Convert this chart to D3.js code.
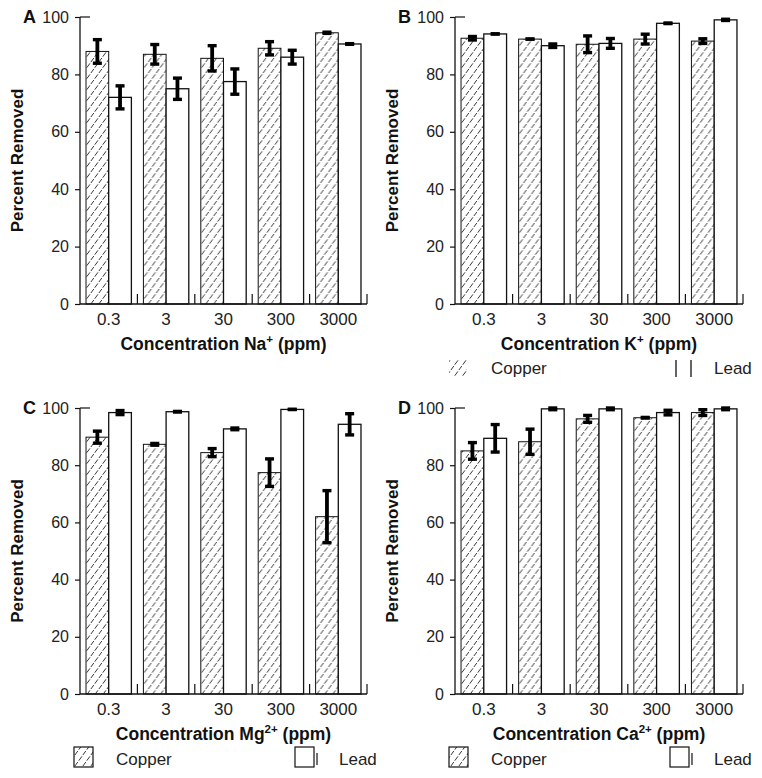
<!DOCTYPE html>
<html><head><meta charset="utf-8">
<script src="https://cdn.jsdelivr.net/npm/d3@7/dist/d3.min.js"></script>
<style>
html,body{margin:0;padding:0;background:#fff;}
svg{display:block;font-family:"Liberation Sans",Arial,sans-serif;}
</style></head>
<body>
<svg id="chart" width="762" height="778"></svg>
<script>
// ---- data ----
const categories = ["0.3", "3", "30", "300", "3000"];
const series = ["Copper", "Lead"];
const yTicks = [0, 20, 40, 60, 80, 100];

const naCopper = [88, 87, 85.6, 89.1, 94.5];
const naCopperErr = [4.7, 4, 5, 2.9, 0.8];
const naLead = [72, 75, 77.5, 86, 90.6];
const naLeadErr = [4.6, 4.3, 5, 3, 0.7];

const kCopper = [92.6, 92.3, 90.5, 92.3, 91.6];
const kCopperErr = [1.2, 0.6, 3.5, 2.3, 1.4];
const kLead = [94.1, 90, 90.8, 97.8, 99];
const kLeadErr = [0.6, 1.2, 2.3, 0.5, 0.8];

const mgCopper = [89.8, 87.3, 84.4, 77.4, 62];
const mgCopperErr = [2.7, 0.9, 2, 5.4, 9.7];
const mgLead = [98.4, 98.7, 92.7, 99.5, 94.3];
const mgLeadErr = [1.3, 0.7, 0.3, 0.6, 4.3];

const caCopper = [85, 88.2, 96.2, 96.6, 98.4];
const caCopperErr = [3.5, 5, 1.8, 0.7, 1.6];
const caLead = [89.4, 99.7, 99.7, 98.4, 99.7];
const caLeadErr = [5.4, 0.3, 0.3, 1.4, 0.3];

// ---- layout ----
const panels = [
  {letter:"A", ion:"Na", charge:"+", copper:naCopper, copperErr:naCopperErr, lead:naLead, leadErr:naLeadErr,
   x0:80, x1:367, yTop:17, yBase:304, legend:null},
  {letter:"B", ion:"K", charge:"+", copper:kCopper, copperErr:kCopperErr, lead:kLead, leadErr:kLeadErr,
   x0:455, x1:743, yTop:17, yBase:304, legend:"lines"},
  {letter:"C", ion:"Mg", charge:"2+", copper:mgCopper, copperErr:mgCopperErr, lead:mgLead, leadErr:mgLeadErr,
   x0:80, x1:367, yTop:408, yBase:694, legend:"boxes"},
  {letter:"D", ion:"Ca", charge:"2+", copper:caCopper, copperErr:caCopperErr, lead:caLead, leadErr:caLeadErr,
   x0:455, x1:743, yTop:408, yBase:694, legend:"boxes"}
];

const svg = d3.select("#chart");
const defs = svg.append("defs");
const PW = 8, PH = 11;
const pat = defs.append("pattern").attr("id","hatch").attr("patternUnits","userSpaceOnUse")
  .attr("width",PW).attr("height",PH);
pat.append("rect").attr("width",PW).attr("height",PH).attr("fill","#fff");
[-PW, 0, PW].forEach(o => {
  pat.append("path").attr("d",`M${o - 1},${PH + 1.375} L${o + PW + 1},${-1.375}`)
    .attr("stroke","#3a3a3a").attr("stroke-width",1.0).attr("stroke-dasharray","5,1.6");
});

panels.forEach(p => {
  const g = svg.append("g");
  const x = d3.scaleBand().domain(categories).range([p.x0, p.x1]).padding(0);
  const xs = d3.scaleBand().domain(series).range([0, x.bandwidth()]).paddingInner(0).paddingOuter(0.265);
  const y = d3.scaleLinear().domain([0, 100]).range([p.yBase, p.yTop]);

  const rows = categories.map((c, i) => ({cat:c, vals:[
    {s:"Copper", v:p.copper[i], e:p.copperErr[i]},
    {s:"Lead", v:p.lead[i], e:p.leadErr[i]}
  ]}));

  const grp = g.selectAll("g.grp").data(rows).join("g").attr("transform", d => `translate(${x(d.cat)},0)`);
  grp.selectAll("rect.bar").data(d => d.vals).join("rect")
    .attr("x", d => xs(d.s)).attr("width", xs.bandwidth())
    .attr("y", d => y(d.v)).attr("height", d => y(0) - y(d.v))
    .attr("fill", d => d.s === "Copper" ? "url(#hatch)" : "#fff")
    .attr("stroke", "#111").attr("stroke-width", d => d.s === "Copper" ? 1 : 1.3);

  // error bars
  const eb = grp.selectAll("g.eb").data(d => d.vals).join("g")
    .attr("transform", d => `translate(${xs(d.s) + xs.bandwidth()/2},0)`);
  eb.append("line").attr("x1",0).attr("x2",0)
    .attr("y1", d => y(d.v + d.e) + 1).attr("y2", d => y(d.v - d.e) - 1)
    .attr("stroke","#000").attr("stroke-width",3.8);
  eb.append("rect").attr("x",-4.5).attr("width",9).attr("y", d => y(d.v + d.e)).attr("height",3.4).attr("fill","#000");
  eb.append("rect").attr("x",-4.5).attr("width",9).attr("y", d => y(d.v - d.e) - 3.4).attr("height",3.4).attr("fill","#000");

  // y axis
  const ya = g.append("g").attr("transform", `translate(${p.x0},0)`)
    .call(d3.axisLeft(y).tickValues(yTicks).tickSize(5).tickPadding(6).tickFormat(d3.format("d")));
  ya.select(".domain").remove();
  ya.selectAll(".tick line").attr("stroke","#111").attr("stroke-width",1.2);
  ya.selectAll(".tick text").attr("font-size",16).attr("fill","#222").attr("font-family","Liberation Sans, Arial, sans-serif");
  g.append("line").attr("x1",p.x0).attr("x2",p.x0).attr("y1",p.yTop).attr("y2",p.yBase).attr("stroke","#111").attr("stroke-width",1.3);
  g.append("line").attr("x1",p.x0).attr("x2",p.x0+10).attr("y1",y(100)).attr("y2",y(100)).attr("stroke","#111").attr("stroke-width",1.2);

  // x axis
  g.append("line").attr("x1",p.x0).attr("x2",p.x1).attr("y1",p.yBase).attr("y2",p.yBase).attr("stroke","#111").attr("stroke-width",1.3);
  g.selectAll("line.xt").data(categories).join("line")
    .attr("x1", d => x(d) + x.bandwidth()).attr("x2", d => x(d) + x.bandwidth())
    .attr("y1", p.yBase).attr("y2", p.yBase - 10).attr("stroke","#111").attr("stroke-width",1.2);
  const xa = g.append("g").attr("transform", `translate(0,${p.yBase})`)
    .call(d3.axisBottom(x).tickSize(0).tickPadding(9));
  xa.select(".domain").remove();
  xa.selectAll(".tick text").attr("font-size",17).attr("fill","#222").attr("font-family","Liberation Sans, Arial, sans-serif");

  // x title
  const t = g.append("text").attr("x",(p.x0+p.x1)/2).attr("y",p.yBase+46).attr("text-anchor","middle")
    .attr("font-size",17.5).attr("font-weight","bold").attr("fill","#111");
  t.append("tspan").text("Concentration " + p.ion);
  t.append("tspan").attr("font-size",11.5).attr("dy",-7).text(p.charge);
  t.append("tspan").attr("dy",7).text(" (ppm)");

  // y title
  const cy = (p.yTop + p.yBase) / 2;
  g.append("text").attr("transform", `translate(${p.x0-63},${cy}) rotate(-90)`)
    .attr("text-anchor","middle").attr("dominant-baseline","central")
    .attr("font-size",17).attr("font-weight","bold").attr("fill","#111").text("Percent Removed");

  // panel letter
  g.append("text").attr("x", p.x0-57).attr("y", p.yTop+6).attr("font-size",18).attr("font-weight","bold")
    .attr("fill","#111").text(p.letter);

  // legend
  if (p.legend) {
    const ly = p.yBase + (p.legend === "lines" ? 56 : 53);
    const lg = g.append("g");
    const cx = p.x0 - 6, lx = p.x0 + 215;
    if (p.legend === "lines") {
      lg.append("rect").attr("x",cx).attr("y",ly).attr("width",18).attr("height",17).attr("fill","url(#hatch)");
      lg.append("line").attr("x1",lx+6).attr("x2",lx+6).attr("y1",ly).attr("y2",ly+17).attr("stroke","#111").attr("stroke-width",1.3);
      lg.append("line").attr("x1",lx+21).attr("x2",lx+21).attr("y1",ly).attr("y2",ly+17).attr("stroke","#111").attr("stroke-width",1.3);
    } else {
      lg.append("rect").attr("x",cx).attr("y",ly).attr("width",19).attr("height",20).attr("fill","url(#hatch)").attr("stroke","#111").attr("stroke-width",1.2);
      lg.append("rect").attr("x",lx).attr("y",ly).attr("width",19).attr("height",20).attr("fill","#fff").attr("stroke","#111").attr("stroke-width",1.2);
      lg.append("line").attr("x1",lx+22).attr("x2",lx+22).attr("y1",ly+6).attr("y2",ly+18).attr("stroke","#111").attr("stroke-width",1.2);
    }
    lg.append("text").attr("x",p.x0+36).attr("y",ly+(p.legend==="lines"?14:18)).attr("font-size",17).attr("fill","#222").text("Copper");
    lg.append("text").attr("x",p.x0+259).attr("y",ly+(p.legend==="lines"?14:18)).attr("font-size",17).attr("fill","#222").text("Lead");
  }
});
</script>
</body></html>
